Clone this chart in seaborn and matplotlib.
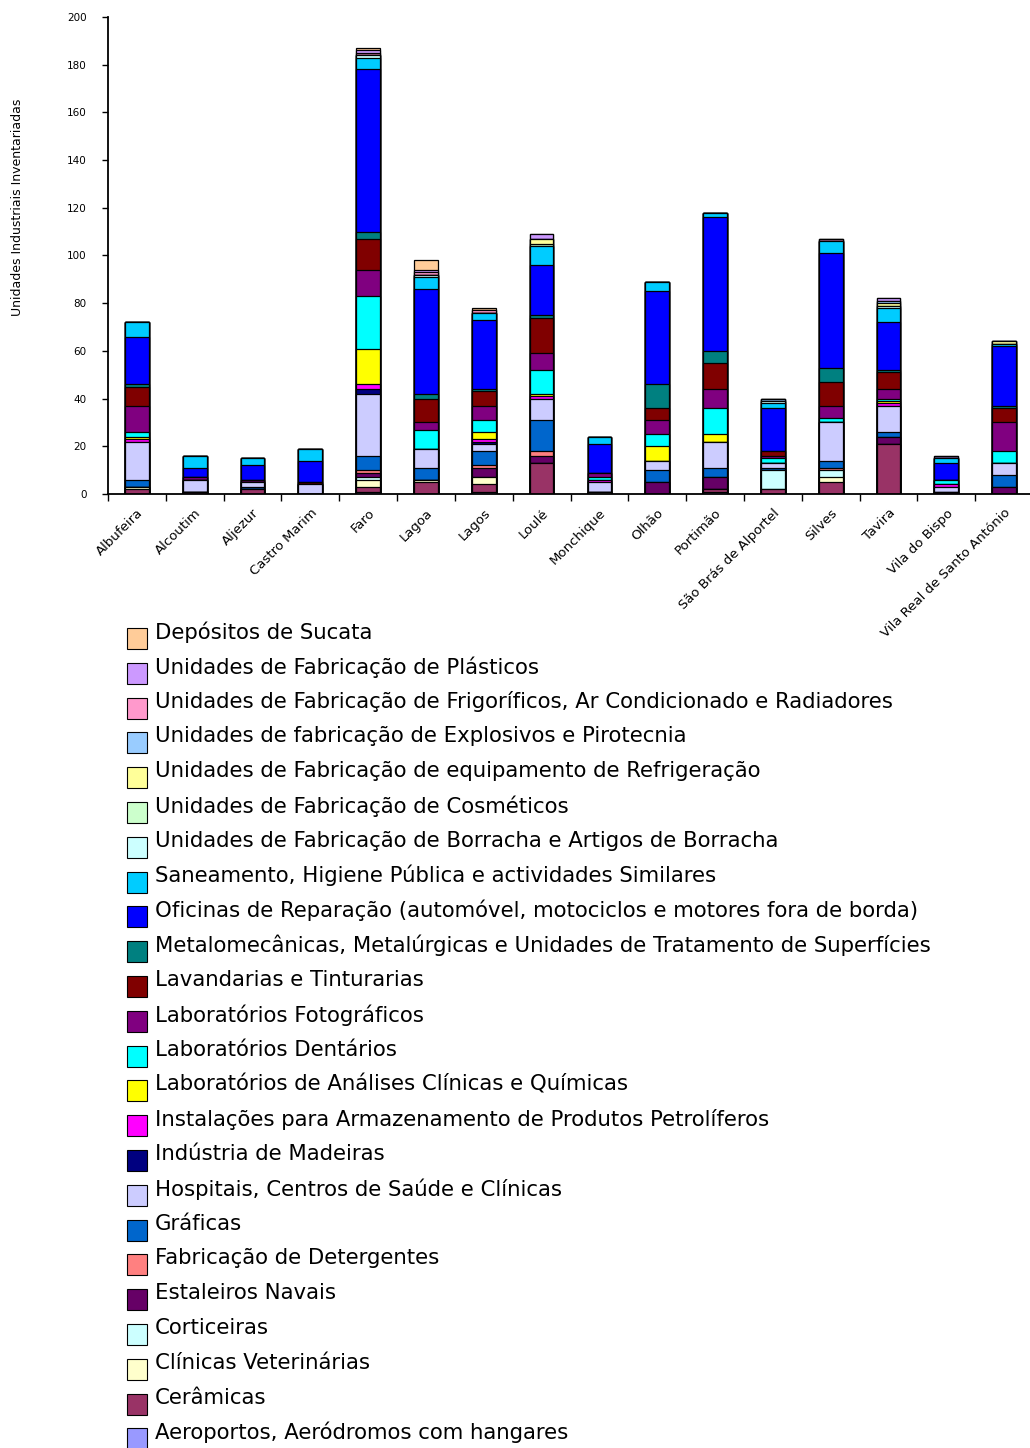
import numpy as np
import matplotlib
matplotlib.use("Agg")
import matplotlib.pyplot as plt
from matplotlib.patches import Rectangle
import seaborn as sns

# Municipalities of the Algarve
municipios = ["Albufeira", "Alcoutim", "Aljezur", "Castro Marim", "Faro", "Lagoa",
              "Lagos", "Loulé", "Monchique", "Olhão", "Portimão",
              "São Brás de Alportel", "Silves", "Tavira", "Vila do Bispo",
              "Vila Real de Santo António"]

# Inventoried industrial units per activity (stacked bottom -> top)
aeroportos    = [0, 0, 0, 0, 1, 0, 1, 0, 0, 0, 1, 0, 0, 0, 0, 0]
ceramicas     = [2, 1, 2, 0, 2, 5, 3, 13, 0, 0, 1, 2, 5, 21, 0, 0]
clinicas_vet  = [1, 0, 0, 0, 3, 1, 3, 0, 1, 0, 0, 0, 2, 0, 0, 0]
corticeiras   = [0, 0, 0, 0, 1, 0, 0, 0, 0, 0, 0, 8, 3, 0, 0, 0]
estaleiros    = [0, 0, 0, 0, 2, 0, 4, 3, 0, 5, 5, 0, 0, 3, 1, 3]
detergentes   = [0, 0, 0, 0, 1, 0, 1, 2, 0, 0, 0, 0, 1, 0, 0, 0]
graficas      = [3, 0, 1, 0, 6, 5, 6, 13, 0, 5, 4, 1, 3, 2, 0, 5]
hospitais     = [16, 5, 2, 4, 26, 8, 3, 9, 4, 4, 11, 2, 16, 11, 2, 5]
madeiras      = [0, 0, 0, 0, 2, 0, 1, 0, 0, 0, 0, 0, 0, 0, 0, 0]
petroliferos  = [1, 0, 0, 0, 2, 0, 1, 1, 1, 0, 0, 0, 0, 1, 1, 0]
lab_analises  = [1, 0, 0, 0, 15, 0, 3, 1, 0, 6, 3, 0, 0, 1, 0, 0]
lab_dentarios = [2, 0, 0, 0, 22, 8, 5, 10, 1, 5, 11, 2, 2, 1, 2, 5]
lab_foto      = [11, 1, 1, 0, 11, 3, 6, 7, 2, 6, 8, 1, 5, 4, 0, 12]
lavandarias   = [8, 0, 0, 1, 13, 10, 6, 15, 0, 5, 11, 2, 10, 7, 0, 6]
metalomec     = [1, 0, 0, 0, 3, 2, 1, 1, 0, 10, 5, 0, 6, 1, 0, 1]
oficinas      = [20, 4, 6, 9, 68, 44, 29, 21, 12, 39, 56, 18, 48, 20, 7, 25]
saneamento    = [6, 5, 3, 5, 5, 5, 3, 8, 3, 4, 2, 2, 5, 6, 2, 1]
borracha      = [0, 0, 0, 0, 1, 1, 0, 0, 0, 0, 0, 1, 0, 1, 0, 0]
cosmeticos    = [0, 0, 0, 0, 0, 0, 0, 1, 0, 0, 0, 0, 0, 0, 0, 0]
refrigeracao  = [0, 0, 0, 0, 0, 0, 0, 2, 0, 0, 0, 0, 0, 1, 0, 1]
explosivos    = [0, 0, 0, 0, 0, 0, 0, 0, 0, 0, 0, 1, 0, 1, 0, 0]
frigorificos  = [0, 0, 0, 0, 1, 1, 1, 0, 0, 0, 0, 0, 1, 0, 0, 0]
plasticos     = [0, 0, 0, 0, 1, 1, 0, 2, 0, 0, 0, 0, 0, 1, 1, 0]
sucata        = [0, 0, 0, 0, 1, 4, 1, 0, 0, 0, 0, 0, 0, 0, 0, 0]

series = [aeroportos, ceramicas, clinicas_vet, corticeiras, estaleiros, detergentes,
          graficas, hospitais, madeiras, petroliferos, lab_analises, lab_dentarios,
          lab_foto, lavandarias, metalomec, oficinas, saneamento, borracha,
          cosmeticos, refrigeracao, explosivos, frigorificos, plasticos, sucata]

nomes = ["Aeroportos, Aeródromos com hangares",
         "Cerâmicas",
         "Clínicas Veterinárias",
         "Corticeiras",
         "Estaleiros Navais",
         "Fabricação de Detergentes",
         "Gráficas",
         "Hospitais, Centros de Saúde e Clínicas",
         "Indústria de Madeiras",
         "Instalações para Armazenamento de Produtos Petrolíferos",
         "Laboratórios de Análises Clínicas e Químicas",
         "Laboratórios Dentários",
         "Laboratórios Fotográficos",
         "Lavandarias e Tinturarias",
         "Metalomecânicas, Metalúrgicas e Unidades de Tratamento de Superfícies",
         "Oficinas de Reparação (automóvel, motociclos e motores fora de borda)",
         "Saneamento, Higiene Pública e actividades Similares",
         "Unidades de Fabricação de Borracha e Artigos de Borracha",
         "Unidades de Fabricação de Cosméticos",
         "Unidades de Fabricação de equipamento de Refrigeração",
         "Unidades de fabricação de Explosivos e Pirotecnia",
         "Unidades de Fabricação de Frigoríficos, Ar Condicionado e Radiadores",
         "Unidades de Fabricação de Plásticos",
         "Depósitos de Sucata"]

cores = ["#9999FF", "#993366", "#FFFFCC", "#CCFFFF", "#660066", "#FF8080",
         "#0066CC", "#CCCCFF", "#000080", "#FF00FF", "#FFFF00", "#00FFFF",
         "#800080", "#800000", "#008080", "#0000FF", "#00CCFF", "#CCFFFF",
         "#CCFFCC", "#FFFF99", "#99CCFF", "#FF99CC", "#CC99FF", "#FFCC99"]

sns.set_style("white")
plt.rcParams["font.family"] = ["DejaVu Sans"]
plt.rcParams["text.color"] = "black"
plt.rcParams["xtick.color"] = "black"
plt.rcParams["ytick.color"] = "black"
plt.rcParams["axes.labelcolor"] = "black"

W, H = 1030, 1448
fig = plt.figure(figsize=(W / 100, H / 100), dpi=100)
ax_left, ax_right, ax_top, ax_bot = 108, 1033, 17, 494
ax = fig.add_axes([ax_left / W, 1 - ax_bot / H, (ax_right - ax_left) / W, (ax_bot - ax_top) / H])

# Stacked bars: draw cumulative totals from the top layer down
cum = np.cumsum(np.array(series, dtype=float), axis=0)
for k in range(len(series) - 1, -1, -1):
    sns.barplot(x=municipios, y=cum[k], color=cores[k], saturation=1, width=0.41,
                edgecolor="black", linewidth=0.9, errorbar=None, ax=ax)

ax.set_xlim(-0.5, len(municipios) - 0.5)
ax.set_ylim(0, 200)
ax.set_yticks(range(0, 201, 20))
ax.set_xlabel("")
ax.set_ylabel("")
for s in ["top", "right"]:
    ax.spines[s].set_visible(False)
for s in ["left", "bottom"]:
    ax.spines[s].set_color("black")
    ax.spines[s].set_linewidth(1.3)

ax.tick_params(axis="y", which="major", direction="out", length=4.5, width=1,
               labelsize=7.5, pad=11, left=True, color="black", labelcolor="black")
ax.set_xticks(range(len(municipios)))
ax.set_xticklabels(municipios, rotation=45, ha="right", rotation_mode="anchor",
                   fontsize=9.5, color="black")
ax.tick_params(axis="x", which="major", length=0, pad=9)
ax.set_xticks(np.arange(-0.5, len(municipios), 1), minor=True)
ax.tick_params(axis="x", which="minor", direction="out", length=5, width=1,
               bottom=True, color="black")

fig.text(18 / W, 1 - 207 / H, "Unidades Industriais Inventariadas", rotation=90,
         ha="center", va="center", fontsize=9, color="black")

# Legend, listed top layer first
row0, step = 632, 34.8
for i, k in enumerate(range(len(series) - 1, -1, -1)):
    y = row0 + i * step
    fig.patches.append(Rectangle((127 / W, 1 - (y + 17) / H), 20 / W, 21 / H,
                                 facecolor=cores[k], edgecolor="black", linewidth=0.8,
                                 transform=fig.transFigure, figure=fig))
    fig.text(155 / W, 1 - y / H, nomes[k], ha="left", va="center", fontsize=15.3,
             color="black")

fig.savefig("out.png", dpi=100)
